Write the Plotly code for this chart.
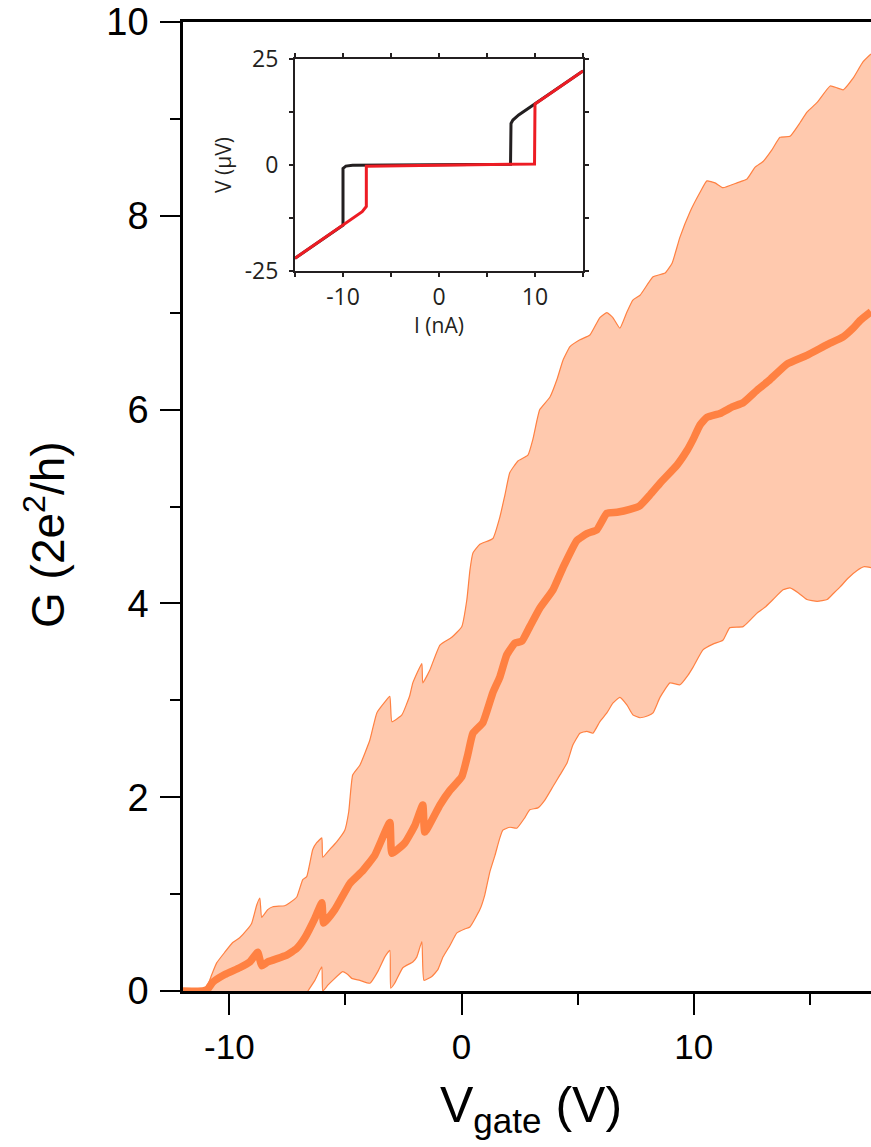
import plotly.graph_objects as go

# ---------------- main data ----------------
mean_x = [-12.0, -11.14, -10.93, -10.72, -10.20, -9.56, -9.12, -8.78, -8.61, -8.35, -7.53, -7.10,
          -6.75, -6.32, -6.02, -5.94, -5.46, -4.81, -4.30, -3.74, -3.09, -3.00, -2.44, -2.01,
          -1.67, -1.58, -0.93, -0.50, 0.01, 0.27, 0.49, 0.92, 1.35, 1.65, 1.95, 2.30, 2.60,
          2.94, 3.37, 3.94, 4.37, 4.97, 5.40, 5.83, 6.26, 6.70, 7.25, 7.69, 8.12, 8.55, 9.29,
          9.72, 9.97, 10.27, 10.57, 11.13, 11.69, 12.13, 12.73, 13.29, 14.02, 14.88, 15.75,
          16.44, 16.87, 17.17, 17.64]
mean_y = [0.0, 0.0, 0.02, 0.09, 0.17, 0.24, 0.30, 0.40, 0.26, 0.30, 0.37, 0.44,
          0.55, 0.75, 0.91, 0.70, 0.84, 1.11, 1.23, 1.40, 1.74, 1.42, 1.53, 1.71,
          1.92, 1.64, 1.92, 2.07, 2.21, 2.44, 2.66, 2.77, 3.08, 3.24, 3.47, 3.59, 3.61,
          3.76, 3.95, 4.14, 4.37, 4.65, 4.72, 4.76, 4.93, 4.94, 4.97, 5.01, 5.12, 5.24, 5.43,
          5.58, 5.69, 5.84, 5.92, 5.96, 6.03, 6.07, 6.20, 6.31, 6.47, 6.56, 6.67,
          6.75, 6.84, 6.92, 7.01]

upper_x = [-11.14, -10.97, -10.76, -10.55, -10.20, -9.86, -9.56, -9.25, -9.04, -8.82, -8.69, -8.61,
           -8.35, -8.13, -7.62, -7.40, -7.10, -6.84, -6.67, -6.41, -6.24, -6.02, -5.98, -5.68,
           -5.38, -5.03, -4.86, -4.69, -4.38, -3.95, -3.65, -3.31, -3.09, -3.00, -2.57, -2.23,
           -2.10, -1.71, -1.67, -1.37, -0.93, -0.42, 0.01, 0.23, 0.36, 0.49, 0.79, 1.35, 1.65,
           1.87, 2.08, 2.43, 2.86, 3.07, 3.25, 3.37, 3.81, 4.11, 4.37, 4.67, 5.10, 5.53, 5.96,
           6.26, 6.52, 6.82, 7.13, 7.38, 7.69, 8.25, 8.77, 9.07, 9.41, 9.84, 10.27, 10.57,
           10.92, 11.26, 11.87, 12.30, 12.64, 12.99, 13.37, 13.72, 14.15, 14.58, 14.88, 15.32,
           15.88, 16.18, 16.44, 16.87, 17.30, 17.64]
upper_y = [0.0, 0.04, 0.17, 0.29, 0.40, 0.50, 0.55, 0.63, 0.70, 0.89, 0.96, 0.76,
           0.84, 0.87, 0.88, 0.91, 0.97, 1.15, 1.18, 1.46, 1.53, 1.58, 1.38, 1.46,
           1.54, 1.66, 1.85, 2.23, 2.33, 2.59, 2.87, 2.98, 3.04, 2.78, 2.85, 3.05,
           3.18, 3.38, 3.18, 3.31, 3.57, 3.65, 3.76, 4.04, 4.34, 4.52, 4.61, 4.67, 4.89,
           5.12, 5.35, 5.47, 5.53, 5.69, 5.89, 6.00, 6.13, 6.31, 6.51, 6.65, 6.72, 6.77, 6.95,
           7.00, 6.95, 6.84, 7.01, 7.13, 7.18, 7.37, 7.41, 7.51, 7.78, 8.04, 8.24, 8.36,
           8.34, 8.29, 8.34, 8.38, 8.50, 8.56, 8.68, 8.81, 8.82, 8.96, 9.07, 9.17,
           9.34, 9.32, 9.30, 9.42, 9.59, 9.67]

lower_x = [-6.62, -6.32, -6.02, -5.98, -5.76, -5.55, -5.12, -4.90, -4.73, -4.38, -3.95, -3.61,
           -3.31, -3.09, -3.05, -2.88, -2.53, -2.10, -1.93, -1.71, -1.62, -1.28, -1.02, -0.80,
           -0.50, -0.20, 0.14, 0.36, 0.79, 1.00, 1.22, 1.44, 1.65, 1.78, 2.08, 2.38, 2.73,
           2.94, 3.29, 3.59, 3.94, 4.24, 4.54, 4.80, 5.10, 5.40, 5.66, 5.96, 6.26, 6.52, 6.82,
           7.13, 7.38, 7.69, 8.03, 8.25, 8.55, 8.98, 9.41, 9.76, 9.97, 10.40, 10.83, 11.26,
           11.56, 12.13, 12.73, 13.07, 13.42, 13.85, 14.15, 14.50, 14.88, 15.32, 15.75, 16.01,
           16.31, 16.65, 17.04, 17.35, 17.64]
lower_y = [0.0, 0.11, 0.25, 0.0, 0.06, 0.11, 0.20, 0.17, 0.13, 0.11, 0.08, 0.20,
           0.35, 0.42, 0.03, 0.08, 0.24, 0.30, 0.35, 0.51, 0.11, 0.15, 0.22, 0.35,
           0.47, 0.60, 0.64, 0.66, 0.84, 0.99, 1.23, 1.40, 1.58, 1.66, 1.69, 1.68, 1.79,
           1.87, 1.89, 1.97, 2.11, 2.23, 2.35, 2.54, 2.66, 2.68, 2.66, 2.78, 2.87, 2.97, 3.03,
           2.95, 2.85, 2.82, 2.84, 2.87, 3.03, 3.18, 3.16, 3.26, 3.34, 3.52, 3.58, 3.62,
           3.75, 3.76, 3.90, 3.96, 4.04, 4.14, 4.16, 4.11, 4.04, 4.02, 4.04, 4.10,
           4.17, 4.26, 4.34, 4.38, 4.37]

# ---------------- inset data (I-V) ----------------
black_I = [-15.0, -10.0, -10.0, -9.7, -9.0, 7.45, 7.5, 7.7, 8.3, 10.0, 15.0]
black_V = [-22.0, -14.2, -0.8, -0.25, -0.05, 0.2, 9.8, 10.6, 11.8, 14.4, 22.2]
red_I = [-15.0, -10.0, -8.0, -7.57, -7.57, 9.95, 10.0, 15.0]
red_V = [-22.0, -14.2, -11.0, -9.8, -0.3, 0.25, 14.4, 22.2]

main_x_ticks = [-10, 0, 10]
main_y_ticks = [0, 2, 4, 6, 8, 10]
inset_x_ticks = [-10, 0, 10]
inset_y_ticks = [-25, 0, 25]

ORANGE = "#FF8142"
FILL = "#FFC9AE"
INK = "#231f20"
INSET_FONT = "Open Sans, Liberation Sans, sans-serif"

fig = go.Figure()

# band fill
fig.add_trace(go.Scatter(
    x=upper_x + lower_x[::-1], y=upper_y + lower_y[::-1],
    fill="toself", fillcolor=FILL, line=dict(width=0, shape="spline", smoothing=0.4),
    mode="lines", hoverinfo="skip", showlegend=False))
# band edges
fig.add_trace(go.Scatter(x=upper_x, y=upper_y, mode="lines",
                         line=dict(color=ORANGE, width=1.2, shape="spline", smoothing=0.4),
                         showlegend=False))
fig.add_trace(go.Scatter(x=lower_x, y=lower_y, mode="lines",
                         line=dict(color=ORANGE, width=1.2, shape="spline", smoothing=0.4),
                         showlegend=False))
# mean
fig.add_trace(go.Scatter(x=mean_x, y=mean_y, mode="lines",
                         line=dict(color=ORANGE, width=7.5, shape="spline", smoothing=0.4),
                         showlegend=False, cliponaxis=False))

# inset
fig.add_trace(go.Scatter(x=black_I, y=black_V, mode="lines",
                         line=dict(color=INK, width=3), showlegend=False,
                         xaxis="x2", yaxis="y2"))
fig.add_trace(go.Scatter(x=red_I, y=red_V, mode="lines",
                         line=dict(color="#ED1C24", width=3), showlegend=False,
                         xaxis="x2", yaxis="y2"))

W, H = 871, 1147
L, R, T, B = 183, 0, 22, 156
pw, ph = W - L - R, H - T - B


def px_x(p):
    return (p - L) / pw


def px_y(p):
    return (H - B - p) / ph


fig.update_layout(
    width=W, height=H,
    margin=dict(l=L, r=R, t=T, b=B, pad=0),
    paper_bgcolor="white", plot_bgcolor="white",
    font=dict(family="Liberation Sans, Arial, sans-serif", color="black"),
    xaxis=dict(
        range=[-12, 17.64], tickvals=main_x_ticks, ticktext=[str(v) for v in main_x_ticks],
        ticks="outside", ticklen=21, tickwidth=2, tickcolor="black",
        showline=True, linewidth=2.5, linecolor="black", mirror=True,
        showgrid=False, zeroline=False,
        tickfont=dict(size=35, color="black"), ticklabelstandoff=2,
        minor=dict(dtick=5, tick0=0, ticks="outside", ticklen=11, tickwidth=2,
                   tickcolor="black", showgrid=False),
    ),
    yaxis=dict(
        range=[0, 10], tickvals=main_y_ticks, ticktext=[str(v) for v in main_y_ticks],
        ticks="outside", ticklen=20, tickwidth=2, tickcolor="black",
        showline=True, linewidth=2.5, linecolor="black", mirror=False,
        showgrid=False, zeroline=False,
        tickfont=dict(size=38, color="black"), ticklabelstandoff=4,
        minor=dict(dtick=1, tick0=0, ticks="outside", ticklen=10, tickwidth=2,
                   tickcolor="black", showgrid=False),
    ),
    xaxis2=dict(
        domain=[px_x(295), px_x(583)], anchor="y2",
        range=[-15, 15], tickvals=inset_x_ticks, ticktext=[str(v) for v in inset_x_ticks],
        ticks="outside", ticklen=4, tickwidth=1.5, tickcolor=INK,
        showline=True, linewidth=2, linecolor=INK, mirror="ticks",
        showgrid=False, zeroline=False,
        tickfont=dict(size=23, color=INK, family=INSET_FONT), ticklabelstandoff=0,
        minor=dict(dtick=5, tick0=0, ticks="outside", ticklen=4, tickwidth=1.5,
                   tickcolor=INK, showgrid=False),
    ),
    yaxis2=dict(
        domain=[px_y(271), px_y(59)], anchor="x2",
        range=[-25, 25], tickvals=inset_y_ticks, ticktext=[str(v) for v in inset_y_ticks],
        ticks="outside", ticklen=4, tickwidth=1.5, tickcolor=INK,
        showline=True, linewidth=2, linecolor=INK, mirror="ticks",
        showgrid=False, zeroline=False,
        tickfont=dict(size=23, color=INK, family=INSET_FONT), ticklabelstandoff=6,
        minor=dict(dtick=12.5, tick0=0, ticks="outside", ticklen=4, tickwidth=1.5,
                   tickcolor=INK, showgrid=False),
    ),
    annotations=[
        dict(text="G (2e<sup>2</sup>/h)", x=px_x(45), y=px_y(535), xref="paper", yref="paper",
             textangle=-90, showarrow=False, xanchor="center", yanchor="middle",
             font=dict(size=46, color="black")),
        dict(text="V<sub>gate</sub> (V)", x=px_x(531), y=px_y(1108), xref="paper", yref="paper",
             showarrow=False, xanchor="center", yanchor="middle",
             font=dict(size=50, color="black")),
        dict(text="V (μV)", x=px_x(223), y=px_y(165), xref="paper", yref="paper",
             textangle=-90, showarrow=False, xanchor="center", yanchor="middle",
             font=dict(size=21, color=INK, family=INSET_FONT)),
        dict(text="I (nA)", x=px_x(439), y=px_y(325), xref="paper", yref="paper",
             showarrow=False, xanchor="center", yanchor="middle",
             font=dict(size=21, color=INK, family=INSET_FONT)),
    ],
)

fig.write_html("out.html")
